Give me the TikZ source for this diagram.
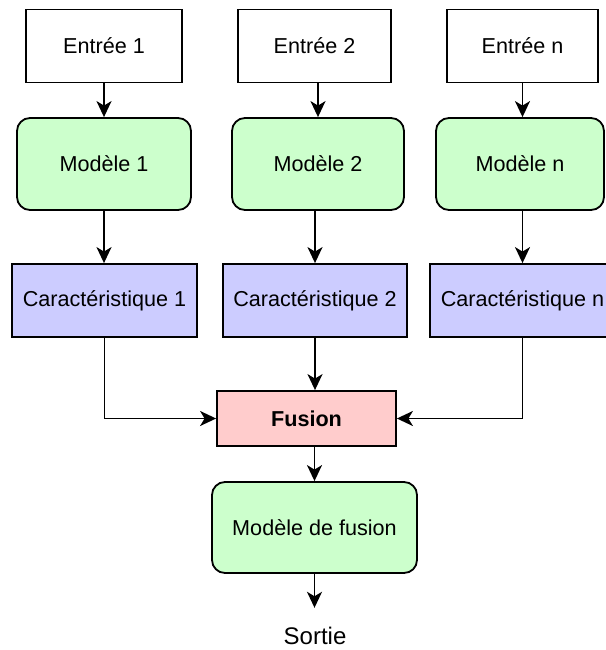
\documentclass[tikz,border=0pt]{standalone}
\usepackage{fontspec}
\setmainfont{Liberation Sans}
\usetikzlibrary{arrows.meta}
\definecolor{vert}{HTML}{CCFFCC}
\definecolor{bleu}{HTML}{CCCCFF}
\definecolor{rose}{HTML}{FFCCCC}
\begin{document}
\begin{tikzpicture}[x=1pt,y=-1pt,
  box/.style={draw=black, line width=1.8pt, inner sep=0pt, align=center,
    font=\fontsize{21.6}{26}\selectfont},
  entree/.style={box, fill=white, minimum height=73pt},
  modele/.style={box, fill=vert, rounded corners=13pt, minimum height=92pt},
  carac/.style={box, fill=bleu, minimum height=73pt},
  fus/.style={box, fill=rose, minimum height=55pt, font=\fontsize{21.6}{26}\selectfont\bfseries},
  arr/.style={line width=1.9pt, -{Stealth[length=16pt,width=15pt,inset=4.5pt]}}]
\useasboundingbox (0,0) rectangle (605,650);
\node[entree, minimum width=156pt] (e1) at (104,46) {Entrée 1};
\node[entree, minimum width=153pt] (e2) at (314.5,46) {Entrée 2};
\node[entree, minimum width=151pt] (en) at (522.5,46) {Entrée n};
\node[modele, minimum width=174pt] (m1) at (104,164) {Modèle 1};
\node[modele, minimum width=172pt] (m2) at (318,164) {Modèle 2};
\node[modele, minimum width=168pt] (mn) at (520,164) {Modèle n};
\node[carac, minimum width=185pt] (c1) at (104.5,300.5) {Caractéristique 1};
\node[carac, minimum width=184pt] (c2) at (315,300.5) {Caractéristique 2};
\node[carac, minimum width=185pt] (cn) at (522.5,300.5) {Caractéristique n};
\node[fus, minimum width=179pt] (fusion) at (306.5,418.5) {Fusion};
\node[modele, minimum width=205pt, minimum height=91pt] (mf) at (314.5,527.5) {Modèle de fusion};
\node[inner sep=0pt, text height=17pt, text depth=0pt, anchor=base,
  font=\fontsize{24}{28}\selectfont] (sortie) at (315,644) {Sortie};
\draw[arr] (e1.south) -- (e1.south |- m1.north);
\draw[arr] (m2.north |- e2.south) -- (m2.north);
\draw[arr] (en.south) -- (en.south |- mn.north);
\draw[arr] (m1.south) -- (m1.south |- c1.north);
\draw[arr] (c2.north |- m2.south) -- (c2.north);
\draw[arr] (cn.north |- mn.south) -- (cn.north);
\draw[arr] (c1.south) |- (fusion.west);
\draw[arr] (cn.south) |- (fusion.east);
\draw[arr] (c2.south) -- (c2.south |- fusion.north);
\draw[arr] (mf.north |- fusion.south) -- (mf.north);
\draw[arr, shorten >=19pt] (mf.south) -- (mf.south |- sortie.north);
\end{tikzpicture}
\end{document}
